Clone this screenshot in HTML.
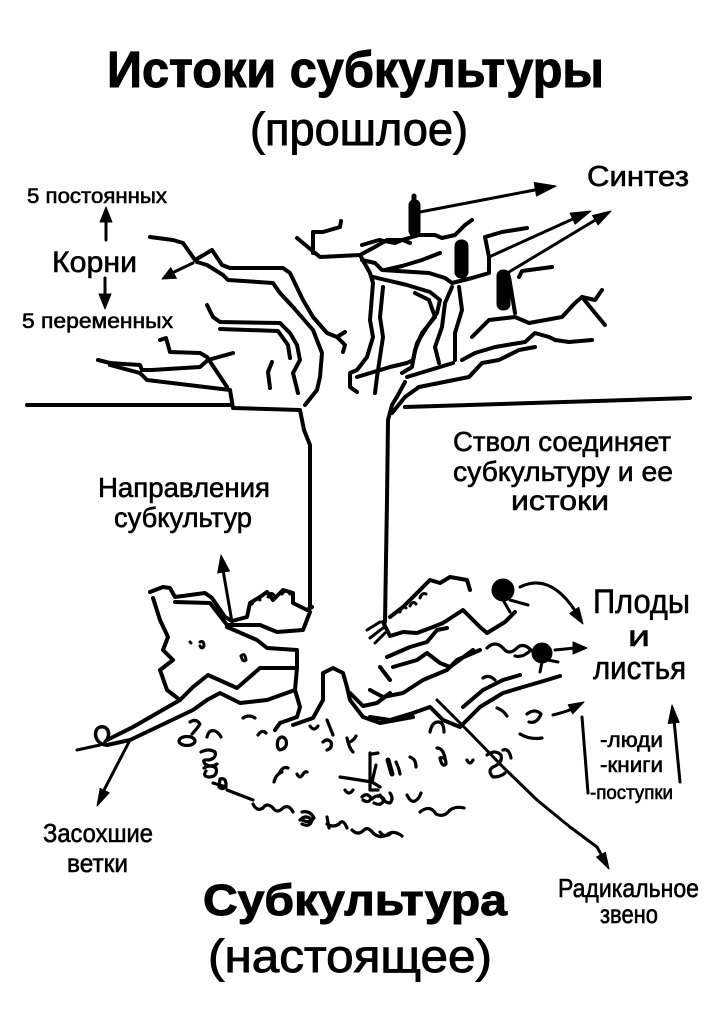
<!DOCTYPE html>
<html><head><meta charset="utf-8">
<style>html,body{margin:0;padding:0;background:#fff}svg{display:block}</style>
</head><body>
<svg width="724" height="1024" viewBox="0 0 724 1024" xmlns="http://www.w3.org/2000/svg">
<rect width="724" height="1024" fill="#fff"/>
<g font-family="'Liberation Sans', sans-serif" fill="#000" stroke="#000" stroke-width="0.6">
  <text x="107" y="87" font-size="51" font-weight="bold" textLength="497" lengthAdjust="spacingAndGlyphs" stroke-width="1">Истоки субкультуры</text>
  <text x="250" y="145" font-size="46" textLength="218" lengthAdjust="spacingAndGlyphs" stroke-width="0.9">(прошлое)</text>
  <text x="27" y="203" font-size="21" textLength="140" lengthAdjust="spacingAndGlyphs">5 постоянных</text>
  <text x="52" y="272" font-size="30" textLength="85" lengthAdjust="spacingAndGlyphs">Корни</text>
  <text x="22" y="328" font-size="21" textLength="151" lengthAdjust="spacingAndGlyphs">5 переменных</text>
  <text x="587" y="186" font-size="29" textLength="102" lengthAdjust="spacingAndGlyphs">Синтез</text>
  <text x="453" y="451" font-size="28" textLength="218" lengthAdjust="spacingAndGlyphs">Ствол соединяет</text>
  <text x="453" y="481" font-size="28" textLength="220" lengthAdjust="spacingAndGlyphs">субкультуру и ее</text>
  <text x="511" y="510" font-size="28" textLength="98" lengthAdjust="spacingAndGlyphs">истоки</text>
  <text x="98" y="497" font-size="28" textLength="172" lengthAdjust="spacingAndGlyphs">Направления</text>
  <text x="114" y="527" font-size="28" textLength="138" lengthAdjust="spacingAndGlyphs">субкультур</text>
  <text x="593" y="613" font-size="34" textLength="97" lengthAdjust="spacingAndGlyphs">Плоды</text>
  <text x="628" y="646" font-size="30" textLength="22" lengthAdjust="spacingAndGlyphs">и</text>
  <text x="593" y="679" font-size="32" textLength="93" lengthAdjust="spacingAndGlyphs">листья</text>
  <text x="600" y="747" font-size="21" textLength="63" lengthAdjust="spacingAndGlyphs">-люди</text>
  <text x="600" y="772" font-size="21" textLength="63" lengthAdjust="spacingAndGlyphs">-книги</text>
  <text x="590" y="799" font-size="19" textLength="83" lengthAdjust="spacingAndGlyphs">-поступки</text>
  <text x="43" y="842" font-size="26" textLength="110" lengthAdjust="spacingAndGlyphs">Засохшие</text>
  <text x="67" y="872" font-size="26" textLength="61" lengthAdjust="spacingAndGlyphs">ветки</text>
  <text x="558" y="897" font-size="26" textLength="141" lengthAdjust="spacingAndGlyphs">Радикальное</text>
  <text x="600" y="923" font-size="26" textLength="58" lengthAdjust="spacingAndGlyphs">звено</text>
  <text x="203" y="915" font-size="44" font-weight="bold" textLength="304" lengthAdjust="spacingAndGlyphs" stroke-width="1">Субкультура</text>
  <text x="208" y="972" font-size="46" textLength="284" lengthAdjust="spacingAndGlyphs" stroke-width="0.9">(настоящее)</text>
</g>

<g fill="none" stroke="#000" stroke-width="4" stroke-linejoin="round" stroke-linecap="round">
  <!-- ground lines -->
  <path d="M27,405 L232,405"/>
  <path d="M405,407 L690,398"/>
  <!-- label arrows shafts -->
  <path d="M106,240 L106,216" stroke-width="3"/>
  <path d="M105,278 L105,298" stroke-width="3"/>
  <path d="M193,263 L170,274" stroke-width="3"/>
  <path d="M420,212 L540,189" stroke-width="3"/>
  <path d="M489,257 L575,218" stroke-width="3"/>
  <path d="M509,272 L597,219" stroke-width="3"/>
  <path d="M232,622 L223,570" stroke-width="3"/>
  <path d="M130,740 L103,792" stroke-width="3"/>
  <path d="M520,587 Q550,572 576,612" stroke-width="3"/>
  <path d="M555,650 L575,648" stroke-width="3"/>
  <path d="M553,715 Q565,712 572,709" stroke-width="3"/>
  <path d="M582,717 L588,793" stroke-width="3"/>
  <path d="M680,782 L674,720" stroke-width="3"/>
  <path d="M437,700 L470,733 L503,767 L537,800 L570,827 L597,847 L602,856" stroke-width="3"/>

  <!-- trunk -->
  <path d="M110,365 L140,373 L147,380 L230,390 L233,408 L300,410 L304,430 L310,445 L310,608"/>
  <path d="M405,382 L398,395 L392,405 L388,420 L387,500 L386,560 L385,622"/>

  <!-- left crown -->
  <path d="M150,237 L173,240 L183,243 L195,260 L212,250 L222,265 L230,268 L283,268 L290,273 L303,300 L313,317 L327,333 L337,337 L345,332"/>
  <path d="M197,262 L207,265 L223,275 L228,280 L273,283 L280,293 L293,307 L313,330 L322,353 L320,377 L317,390 L305,405"/>
  <path d="M207,305 L213,317 L220,322 L280,323 L290,333 L297,345 L300,360 L293,373 L298,393"/>
  <path d="M220,329 L278,331 L288,345 L290,358"/>
  <path d="M272,362 L268,372 L270,388"/>
  <path d="M160,340 L166,338 L170,352 L200,353 L207,357 L217,372 L227,387"/>
  <path d="M98,360 L110,363 L140,365 L142,370 L152,370 L200,367 L208,360 L233,353"/>
  <path d="M337,337 L345,345 L343,352"/>

  <!-- center crown -->
  <path d="M297,238 L303,243 L320,257 L360,255 L373,248 L387,240 L403,240 L410,243"/>
  <path d="M313,253 L313,232 L323,232 L340,227 L341,221"/>
  <path d="M360,255 L370,273 L373,283 L370,320 L373,337 L367,357 L357,370 L350,373 L350,387 L357,392"/>
  <path d="M383,287 L380,317 L383,337 L380,357 L377,377 L375,393"/>
  <path d="M373,277 L407,285 L430,292 L440,300 L437,313 L427,327 L417,343 L413,360 L407,363 L390,367 L357,377"/>
  <path d="M362,245 L379,240 L395,243 L402,240 L419,235 L435,235 L442,238 L455,235 L465,225 L472,220"/>
  <path d="M362,260 L375,263 L382,270 L429,273 L445,278 L452,283 L472,278 L489,273 L489,257 L485,237 L502,232 L527,228"/>
  <path d="M440,253 L422,260 L402,266 L385,270"/>
  <path d="M415,293 L429,300 L435,317 L422,333 L415,350 L412,367 L402,373"/>
  <path d="M452,287 L445,303 L442,327 L435,347 L439,363"/>
  <path d="M459,287 L462,310 L455,333 L455,360"/>
  <path d="M509,277 L512,295 L515,313"/>
  <path d="M519,277 L522,271 L552,267"/>
  <path d="M472,337 L489,320 L515,317 L529,323 L562,317 L575,303 L582,297 L595,300 L602,290"/>
  <path d="M582,297 L595,313 L605,325"/>
  <path d="M462,360 L475,353 L495,347 L525,342 L535,333 L549,337 L555,340 L569,342 L592,340"/>
  <path d="M392,413 L405,397 L419,387 L439,383 L469,377 L482,363 L499,360 L519,350 L535,347"/>
  <path d="M407,377 L430,370 L453,363"/>

  <!-- left bush -->
  <path d="M150,592 L163,587 L170,588 L175,597 L205,593 L212,598 L225,617 L232,621 L247,617 L250,603 L260,597 L267,592 L273,600 L283,590 L293,593 L293,603 L307,610 L312,607"/>
  <path d="M175,602 L210,603 L227,625 L260,625 L277,632 L303,630 L310,612"/>
  <path d="M153,598 L160,620 L168,637 L163,650 L173,660 L160,670 L167,690 L180,700"/>
  <path d="M227,627 L257,640 L267,648 L297,650 L297,668 L260,668 L237,688 L208,675 L193,687 L180,700 L133,727 L107,740"/>
  <path d="M297,668 L295,690 L267,700 L240,703 L220,693 L207,700 L193,710 L130,740 L107,745"/>
  <path d="M295,690 L300,707 L297,717 L280,723 L275,730"/>
  <path d="M293,725 L313,718 L323,700 L323,673 L333,668 L343,673 L347,687 L350,700 L363,717 L380,723 L413,717"/>
  <path d="M107,745 C95,745 92,730 100,727 C108,725 112,735 105,742" stroke-width="3.5"/>
  <path d="M77,750 L100,745" stroke-width="3"/>
  <path d="M252,604 q4,-8 8,-4 M268,597 q2,-6 6,-2 M282,594 q4,-6 8,0" stroke-width="3"/>
  <path d="M190,642 l1,1 M200,642 q4,-2 4,4 q-2,4 -4,0 M241,656 q4,-4 5,4 q-3,3 -5,-4" stroke-width="3"/>

  <!-- right bush -->
  <path d="M367,630 L380,622 M370,638 L383,628 M375,643 L385,633" stroke-width="3"/>
  <path d="M383,622 L390,636 L403,632 L417,633 L433,627 L443,623 L463,610 L480,627 L487,633 L505,622 L515,612"/>
  <path d="M390,617 L403,607 L417,593 L430,580 L440,583 L450,577 L467,580 L470,590"/>
  <path d="M400,612 q2,-8 6,-4 M410,606 q3,-6 6,-2 M420,598 q2,-6 6,-4" stroke-width="3"/>
  <path d="M387,657 L410,647 L427,642 L437,630 L447,628"/>
  <path d="M393,667 L417,660 L427,653 L440,663 L450,667 L473,650"/>
  <path d="M370,690 L383,697 L403,693 L423,680 L447,670 L457,660 L480,650"/>
  <path d="M350,693 L363,706 L377,703 L390,693"/>
  <path d="M370,717 L390,720 L413,713 L430,707 L443,720 L460,727 L480,707 L503,693 L523,687 L547,680 L560,676"/>
  <path d="M463,707 L483,690 L503,680 L520,675"/>
  <path d="M380,667 L390,680"/>
  <path d="M503,600 L510,612 M510,600 L528,605 M542,662 L540,672 M548,660 L558,662" stroke-width="3"/>
</g>

<!-- doodles -->
<g fill="none" stroke="#000" stroke-width="3.2" stroke-linecap="round" stroke-linejoin="round">
  <path d="M190,722 q6,-4 10,2 q-4,6 -8,10"/>
  <path d="M179,741 a8,4.5 0 1,0 16,0 a8,4.5 0 1,0 -16,0"/>
  <path d="M207,737 q2,-8 8,-6 q4,2 6,6"/>
  <path d="M201,752 q8,-4 14,0 q2,6 -6,8 q-8,-1 -4,4 q6,4 12,0"/>
  <path d="M204,768 q6,-4 12,0 q2,8 -6,9 q-8,0 -4,-6"/>
  <path d="M220,779 q6,-2 6,6 q-2,6 -7,2 z"/>
  <path d="M227,790 L253,800"/>
  <path d="M253,804 q4,8 10,4 q4,-6 10,0 q4,6 10,0 q6,-4 10,4"/>
  <path d="M243,718 q6,-4 12,0"/>
  <path d="M258,735 q4,-6 8,-2"/>
  <path d="M278,740 q4,-6 8,0 q2,8 -6,10 q-4,-2 -2,-10"/>
  <path d="M274,782 q2,-8 8,-10"/>
  <path d="M297,774 q3,6 6,0 q2,-3 4,-2"/>
  <path d="M302,812 q8,-2 12,6 q-4,6 -12,2"/>
  <path d="M280,772 q3,-6 8,-4"/>
  <path d="M310,726 q4,6 8,0"/>
  <path d="M327,720 L333,735"/>
  <path d="M323,742 q4,-4 8,0 q2,6 -4,8"/>
  <path d="M347,738 q2,10 6,14 M350,742 q4,-2 6,-6"/>
  <path d="M340,777 L372,782 L376,765 M372,782 L380,787"/>
  <path d="M388,760 L392,774" stroke-width="5"/>
  <path d="M345,790 q4,6 8,0"/>
  <path d="M362,797 q5,-5 9,1 q-2,6 -8,2"/>
  <path d="M380,795 q4,8 10,8 q4,-4 0,-10"/>
  <path d="M300,820 q6,-6 12,0 q-2,8 -10,4"/>
  <path d="M327,824 q6,4 12,0 q4,-6 8,4 M327,817 L329,828"/>
  <path d="M352,830 q6,6 12,0 q4,-4 10,4"/>
  <path d="M380,832 q4,6 10,2"/>
  <path d="M370,753 L370,790 L378,790 M372,754 L378,753"/>
  <path d="M396,762 q3,6 4,12"/>
  <path d="M410,757 q6,2 6,10"/>
  <path d="M440,758 q6,-2 6,6 q-4,4 -6,-6"/>
  <path d="M467,760 q3,6 6,0"/>
  <path d="M487,755 q8,-6 14,0 q2,8 -8,12 q-6,4 0,10 q8,0 12,-4"/>
  <path d="M503,750 q6,-2 8,8"/>
  <path d="M372,799 q6,-6 12,0 q-2,8 -10,4"/>
  <path d="M407,795 q4,8 8,6 q4,-2 6,-8"/>
  <path d="M420,812 q10,-8 16,2 q8,4 14,-4 q6,-4 14,-2"/>
  <path d="M372,832 q8,8 16,2 q6,-4 14,2"/>
  <path d="M430,732 q2,-10 8,-10 q6,0 6,10"/>
  <path d="M437,748 q6,0 8,10"/>
  <path d="M527,714 q8,-6 14,0 q-4,10 -12,8 M520,734 q10,6 22,4"/>
  <path d="M487,648 q8,-8 16,0 q6,8 14,0 q6,-6 14,2 q-8,8 -16,6"/>
  <path d="M483,678 q6,-4 12,2"/>
  <path d="M497,708 q6,2 10,8"/>
  <path d="M213,783 L226,787"/>
</g>

<!-- filled elements: arrowheads, people, fruits -->
<g fill="#000" stroke="#000" stroke-width="1" stroke-linejoin="round">
  <polygon points="106,207 100,222 112,222"/>
  <polygon points="105,309 99,294 111,294"/>
  <polygon points="162,279 176.4,278.3 170.8,267.7"/>
  <polygon points="556,186 536.5,196 534.2,182.5"/>
  <polygon points="591,211 575.1,224.1 570.1,213.1"/>
  <polygon points="611,211 598.1,224.9 592.5,215.5"/>
  <polygon points="221,555 229.5,571 217.7,573"/>
  <polygon points="97,806 109.2,792.8 100.2,788.4"/>
  <polygon points="583,624 578.8,607.3 569.6,613.5"/>
  <polygon points="587,648 573,642 573,654"/>
  <polygon points="584,702 572.7,713.8 568.2,704.8"/>
  <polygon points="672,705 679.2,722.3 668.2,723.5"/>
  <polygon points="609,869 605.4,852.4 596.6,857"/>
  <rect x="409" y="200" width="11" height="36" rx="5"/>
  <rect x="412" y="194" width="4" height="8" rx="2"/>
  <rect x="455" y="240" width="13" height="38" rx="6"/>
  <rect x="497" y="270" width="13" height="40" rx="6"/>
  <circle cx="503" cy="590" r="11"/>
  <circle cx="542" cy="653" r="10"/>
</g>
</svg>
</body></html>
